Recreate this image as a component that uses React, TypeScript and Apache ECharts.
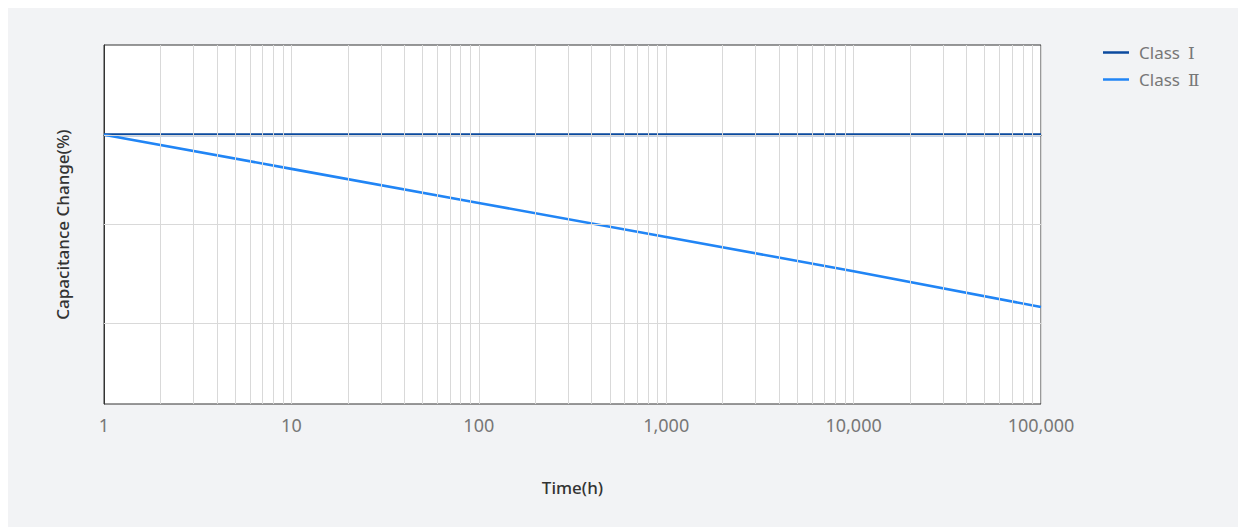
import React, { useEffect, useRef } from "react";
import * as echarts from "echarts";

const timeHours = [1, 10, 100, 1000, 10000, 100000];
const classI = [0, 0, 0, 0, 0, 0];
const classII = [0, -3.8, -7.6, -11.4, -15.2, -19.2];
const xTickLabels = ["1", "10", "100", "1,000", "10,000", "100,000"];
const minorGridX = [
  2, 3, 4, 5, 6, 7, 8, 9,
  20, 30, 40, 50, 60, 70, 80, 90,
  200, 300, 400, 500, 600, 700, 800, 900,
  2000, 3000, 4000, 5000, 6000, 7000, 8000, 9000,
  20000, 30000, 40000, 50000, 60000, 70000, 80000, 90000,
];
const gridY = [0, -10, -21];
const seriesNames = ["Class Ⅰ", "Class Ⅱ"];

export default function App() {
  const ref = useRef<HTMLDivElement>(null);
  useEffect(() => {
    const chart = echarts.init(ref.current!, null, { renderer: "svg" });
    const gridStyle = { color: "#d9d9d9", width: 1, type: "solid" as const };
    chart.setOption({
      animation: false,
      backgroundColor: "#f2f3f5",
      textStyle: { fontFamily: "Noto Sans" },
      grid: {
        left: 96,
        top: 37,
        right: 197,
        bottom: 123,
        show: true,
        backgroundColor: "#ffffff",
        borderColor: "#333",
        borderWidth: 1,
      },
      legend: {
        data: seriesNames,
        orient: "vertical",
        left: 1090,
        top: 31,
        itemWidth: 26,
        itemHeight: 14,
        itemGap: 10,
        icon: "path://M0,6 L26,6 L26,8.5 L0,8.5 Z",
        formatter: (name: string) => {
          const parts = name.split(" ");
          return "{c|" + parts[0] + "}{r|" + parts[1] + "}";
        },
        textStyle: {
          color: "#777",
          fontSize: 17,
          fontFamily: "Noto Sans",
          rich: {
            c: { color: "#777", fontSize: 17, fontFamily: "Noto Sans", padding: [0, 0, 0, 5] },
            r: { color: "#777", fontSize: 17, fontFamily: "DejaVu Serif", padding: [0, 0, 0, 8] },
          },
        },
      },
      xAxis: {
        type: "log",
        min: 1,
        max: 100000,
        logBase: 10,
        name: "Time(h)",
        nameLocation: "middle",
        nameGap: 75,
        nameTextStyle: { color: "#333", fontSize: 17, fontWeight: 500 },
        axisLine: { show: true, lineStyle: { color: "#333", width: 1 } },
        axisTick: { show: false },
        axisLabel: {
          color: "#777",
          fontSize: 18,
          margin: 12,
          formatter: (v: number) => {
            const i = Math.round(Math.log10(v));
            return xTickLabels[i] ?? "";
          },
        },
        splitLine: { show: true, lineStyle: gridStyle },
      },
      yAxis: {
        type: "value",
        min: -30,
        max: 10,
        name: "Capacitance Change(%)",
        nameLocation: "middle",
        nameGap: 33,
        nameTextStyle: { color: "#333", fontSize: 17, fontWeight: 500 },
        axisLine: { show: true, lineStyle: { color: "#333", width: 1 } },
        axisTick: { show: false },
        axisLabel: { show: false },
        splitLine: { show: false },
      },
      series: [
        {
          name: "grid",
          type: "line",
          data: [],
          z: 1,
          silent: true,
          markLine: {
            silent: true,
            symbol: "none",
            label: { show: false },
            lineStyle: gridStyle,
            data: [
              ...minorGridX.map((x) => ({ xAxis: x })),
              ...gridY.map((y) => ({ yAxis: y })),
            ],
          },
        },
        {
          name: seriesNames[0],
          type: "line",
          z: 3,
          symbol: "none",
          color: "#0b4a9e",
          lineStyle: { width: 2.8, color: "#0b4a9e" },
          data: timeHours.map((t, i) => [t, classI[i]]),
        },
        {
          name: seriesNames[1],
          type: "line",
          z: 3,
          symbol: "none",
          color: "#2185f5",
          lineStyle: { width: 2.6, color: "#2185f5" },
          data: timeHours.map((t, i) => [t, classII[i]]),
        },
      ],
    });
    return () => chart.dispose();
  }, []);
  return <div ref={ref} style={{ width: 1230, height: 519 }} />;
}
